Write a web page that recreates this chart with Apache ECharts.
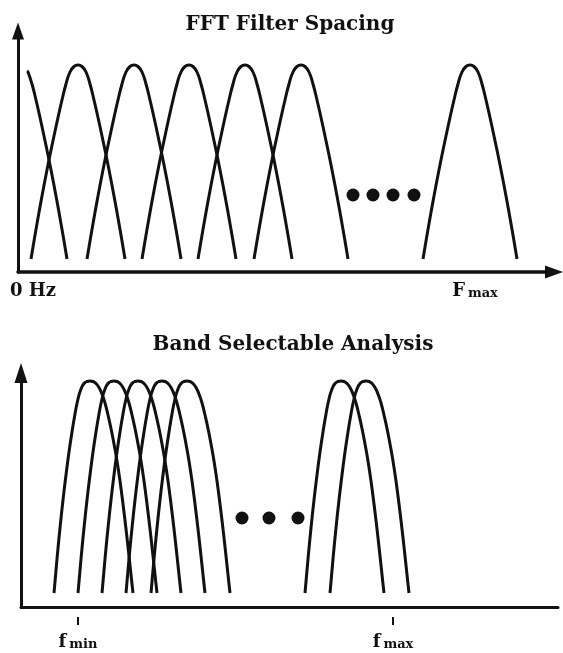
<!DOCTYPE html>
<html>
<head>
<meta charset="utf-8">
<script src="https://cdn.jsdelivr.net/npm/echarts@6/dist/echarts.min.js"></script>
<style>
html,body{margin:0;padding:0;background:#fff;}
#c{width:563px;height:653px;}
</style>
</head>
<body>
<div id="c"></div>
<script>
// ---- data (x in frequency units, y in response units) ----
// FFT Filter Spacing
const topCenters = [2, 60, 116, 171, 227, 283, 452];
const topProfile = [[-47,13],[-44,31],[-40,54],[-36,76],[-32,97],[-28,117],[-24,136],[-20,154.5],[-16,172],[-12,188],[-8,200],[-4,205.5],[0,207],
                    [4,205.5],[8,200],[12,188],[16,172],[20,154.5],[24,136],[28,117],[32,97],[36,76],[40,54],[44,31],[47,13]];
const topFirstStart = [7, 201];
const topDotsX = [335, 355, 375, 396];
const topDotLevel = 77;
const topLabelValues = [0, 452];
const topLabelTexts = ['0 Hz', 'F|max'];
// Band Selectable Analysis
const botCenters = [69, 93, 117, 141, 166, 320, 345];
const botProfile = [[-36,14],[-33,48],[-30,79],[-27,107],[-24,132],[-21,155],[-18,175],[-15,193],[-12,208],[-9,218],[-6,223.5],[-3,225.5],[0,226],
                    [3,225.5],[6,223.5],[9,219.5],[12,213],[15,204],[18,192],[21,178.5],[24,163],[27,146],[30,126],[33,103],[36,78],[39,51],[42,23],[43,14]];
const botDotsX = [221, 248, 277];
const botDotLevel = 89;
const botTickValues = [57, 372];
const botTickTexts = ['f|min', 'f|max'];

const INK = '#111';
const FONT = 'DejaVu Serif';

function hump(center, profile, start) {
  let pts = profile.map(p => [center + p[0], p[1]]);
  if (start) {
    pts = [[center + start[0], start[1]]].concat(
      profile.filter(p => p[0] > start[0]).map(p => [center + p[0], p[1]]));
  }
  return pts;
}

const series = [];
topCenters.forEach((c, i) => {
  series.push({
    type: 'line', xAxisIndex: 0, yAxisIndex: 0,
    data: hump(c, topProfile, i === 0 ? topFirstStart : null),
    smooth: 0.5, symbol: 'none', silent: true,
    lineStyle: {color: INK, width: 3}
  });
});
series.push({
  type: 'scatter', xAxisIndex: 0, yAxisIndex: 0,
  data: topDotsX.map(x => [x, topDotLevel]),
  symbolSize: 13, itemStyle: {color: INK, opacity: 1}
});
botCenters.forEach(c => {
  series.push({
    type: 'line', xAxisIndex: 1, yAxisIndex: 1,
    data: hump(c, botProfile, null),
    smooth: 0.5, symbol: 'none', silent: true,
    lineStyle: {color: INK, width: 3}
  });
});
series.push({
  type: 'scatter', xAxisIndex: 1, yAxisIndex: 1,
  data: botDotsX.map(x => [x, botDotLevel]),
  symbolSize: 13, itemStyle: {color: INK, opacity: 1}
});

function richLabel(t, big) {
  const parts = t.split('|');
  if (parts.length === 1) return '{a|' + parts[0] + '}';
  return '{' + big + '|' + parts[0] + '}{s|' + parts[1] + '}';
}

const richStyles = {
  a: {fontFamily: FONT, fontWeight: 'bold', fontSize: 18, color: INK, padding: [0,0,0,30], lineHeight: 22, verticalAlign: 'bottom'},
  b: {fontFamily: FONT, fontWeight: 'bold', fontSize: 18, color: INK, lineHeight: 22, verticalAlign: 'bottom'},
  c: {fontFamily: FONT, fontWeight: 'bold', fontSize: 18, color: INK, lineHeight: 22, verticalAlign: 'bottom', padding: [0,0,0,10]},
  s: {fontFamily: FONT, fontWeight: 'bold', fontSize: 13, color: INK, lineHeight: 19, verticalAlign: 'bottom', padding: [0,0,0,3]}
};

const chart = echarts.init(document.getElementById('c'), null, {renderer: 'canvas'});
chart.setOption({
  animation: false,
  backgroundColor: '#fff',
  title: [
    {text: 'FFT Filter Spacing', left: 285, top: 10, textAlign: 'center',
     textStyle: {fontFamily: FONT, fontWeight: 'bold', fontSize: 20, color: INK}},
    {text: 'Band Selectable Analysis', left: 288, top: 330, textAlign: 'center',
     textStyle: {fontFamily: FONT, fontWeight: 'bold', fontSize: 20, color: INK}}
  ],
  grid: [
    {left: 18, right: 9, top: 31, bottom: 381, containLabel: false, outerBoundsMode: 'none'},
    {left: 21, right: 5, top: 373, bottom: 46, containLabel: false, outerBoundsMode: 'none'}
  ],
  xAxis: [
    {type: 'value', gridIndex: 0, min: 0, max: 536,
     axisLine: {show: true, symbol: ['none', 'triangle'], symbolSize: [13, 18], lineStyle: {color: INK, width: 3.5}},
     axisTick: {show: false}, splitLine: {show: false},
     axisLabel: {show: true, customValues: topLabelValues, margin: 6,
       formatter: v => richLabel(topLabelTexts[topLabelValues.indexOf(v)], 'c'), rich: richStyles}},
    {type: 'value', gridIndex: 1, min: 0, max: 537,
     axisLine: {show: true, lineStyle: {color: INK, width: 3}},
     axisTick: {show: false}, splitLine: {show: false}, axisLabel: {show: false}},
    {type: 'value', gridIndex: 1, min: 0, max: 537, position: 'bottom', offset: 10,
     axisLine: {show: false},
     axisTick: {show: true, customValues: botTickValues, length: 8, lineStyle: {color: INK, width: 2}},
     splitLine: {show: false},
     axisLabel: {show: true, customValues: botTickValues, margin: 12,
       formatter: v => richLabel(botTickTexts[botTickValues.indexOf(v)], 'b'), rich: richStyles}}
  ],
  yAxis: [
    {type: 'value', gridIndex: 0, min: 0, max: 241,
     axisLine: {show: true, symbol: ['none', 'triangle'], symbolSize: [12, 17], lineStyle: {color: INK, width: 3}},
     axisTick: {show: false}, splitLine: {show: false}, axisLabel: {show: false}},
    {type: 'value', gridIndex: 1, min: 0, max: 234,
     axisLine: {show: true, symbol: ['none', 'triangle'], symbolSize: [13, 20], lineStyle: {color: INK, width: 3}},
     axisTick: {show: false}, splitLine: {show: false}, axisLabel: {show: false}}
  ],
  series: series
});
</script>
</body>
</html>
